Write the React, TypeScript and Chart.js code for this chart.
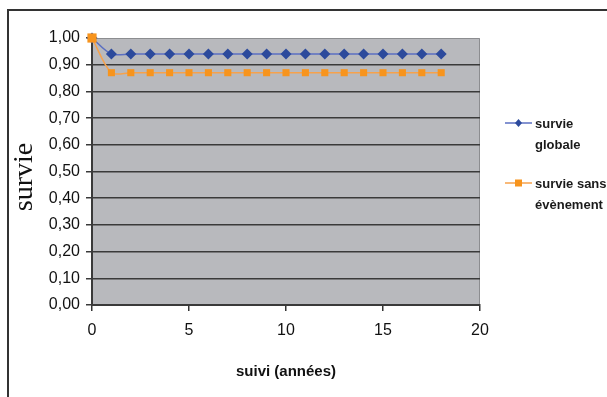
import React, { useEffect, useRef } from "react";
import { Chart, registerables } from "chart.js";

Chart.register(...registerables);

// Follow-up time in years
const years = [0, 1, 2, 3, 4, 5, 6, 7, 8, 9, 10, 11, 12, 13, 14, 15, 16, 17, 18];
// Overall survival
const survieGlobale = [1.0, 0.94, 0.94, 0.94, 0.94, 0.94, 0.94, 0.94, 0.94, 0.94, 0.94, 0.94, 0.94, 0.94, 0.94, 0.94, 0.94, 0.94, 0.94];
// Event-free survival
const survieSansEvenement = [1.0, 0.87, 0.87, 0.87, 0.87, 0.87, 0.87, 0.87, 0.87, 0.87, 0.87, 0.87, 0.87, 0.87, 0.87, 0.87, 0.87, 0.87, 0.87];

const legendLabels = [["survie", "globale"], ["survie sans", "évènement"]];
const yTitle = "survie";
const xTitle = "suivi (années)";

const BLUE_LINE = "#5b6fc2";
const BLUE_MARK = "#2c4a9c";
const ORANGE_LINE = "#f6a24c";
const ORANGE_MARK = "#f7941d";
const PLOT_BG = "#b8b9bd";

const decorations = {
  id: "decorations",
  beforeDraw(chart: any) {
    const { ctx, chartArea } = chart;
    ctx.save();
    ctx.fillStyle = "#ffffff";
    ctx.fillRect(0, 0, chart.width, chart.height);
    ctx.fillStyle = PLOT_BG;
    ctx.fillRect(chartArea.left, chartArea.top, chartArea.right - chartArea.left, chartArea.bottom - chartArea.top);
    // light plot border on top and right
    ctx.strokeStyle = "#8c8d90";
    ctx.lineWidth = 1;
    ctx.beginPath();
    ctx.moveTo(chartArea.left, chartArea.top + 0.5);
    ctx.lineTo(chartArea.right - 0.5, chartArea.top + 0.5);
    ctx.lineTo(chartArea.right - 0.5, chartArea.bottom);
    ctx.stroke();
    ctx.restore();
  },
  afterDraw(chart: any) {
    const { ctx, chartArea } = chart;
    ctx.save();
    // outer frame (top and left edges)
    ctx.strokeStyle = "#333333";
    ctx.lineWidth = 2;
    ctx.beginPath();
    ctx.moveTo(chart.width, 10);
    ctx.lineTo(8, 10);
    ctx.lineTo(8, chart.height);
    ctx.stroke();

    // y axis title
    ctx.fillStyle = "#111111";
    ctx.font = "28px 'Liberation Serif', 'Times New Roman', serif";
    ctx.textAlign = "center";
    ctx.textBaseline = "middle";
    ctx.save();
    ctx.translate(25, 177);
    ctx.rotate(-Math.PI / 2);
    ctx.fillText(yTitle, 0, 0);
    ctx.restore();

    // x axis title
    ctx.font = "bold 15px 'Liberation Sans', Arial, sans-serif";
    ctx.fillText(xTitle, (chartArea.left + chartArea.right) / 2, 372);

    // legend
    const items = [
      { y: 123, line: BLUE_LINE, mark: BLUE_MARK, style: "diamond" },
      { y: 183, line: ORANGE_LINE, mark: ORANGE_MARK, style: "square" },
    ];
    items.forEach((it, i) => {
      ctx.strokeStyle = it.line;
      ctx.lineWidth = 1.5;
      ctx.beginPath();
      ctx.moveTo(505, it.y);
      ctx.lineTo(532, it.y);
      ctx.stroke();
      ctx.fillStyle = it.mark;
      if (it.style === "diamond") {
        ctx.beginPath();
        ctx.moveTo(518.5, it.y - 4);
        ctx.lineTo(522, it.y);
        ctx.lineTo(518.5, it.y + 4);
        ctx.lineTo(515, it.y);
        ctx.closePath();
        ctx.fill();
      } else {
        ctx.fillRect(515, it.y - 3.5, 7, 7);
      }
      ctx.fillStyle = "#1a1a1a";
      ctx.font = "bold 13px 'Liberation Sans', Arial, sans-serif";
      ctx.textAlign = "left";
      ctx.textBaseline = "middle";
      legendLabels[i].forEach((t, k) => {
        ctx.fillText(t, 535, it.y + 1 + k * 21);
      });
    });
    ctx.restore();
  },
};

export default function App() {
  const ref = useRef<HTMLCanvasElement>(null);

  useEffect(() => {
    if (!ref.current) return;
    const tickFont = { family: "'Liberation Sans', Arial, sans-serif", size: 16 };
    const chart = new Chart(ref.current, {
      type: "line",
      data: {
        labels: years,
        datasets: [
          {
            label: "survie globale",
            data: years.map((x, i) => ({ x, y: survieGlobale[i] })),
            borderColor: BLUE_LINE,
            backgroundColor: BLUE_MARK,
            borderWidth: 1.5,
            pointStyle: "rectRot",
            pointRadius: 5.5,
            pointBorderWidth: 0,
            tension: 0.3,
            clip: false,
            order: 2,
          },
          {
            label: "survie sans évènement",
            data: years.map((x, i) => ({ x, y: survieSansEvenement[i] })),
            borderColor: ORANGE_LINE,
            backgroundColor: ORANGE_MARK,
            borderWidth: 1.5,
            pointStyle: "rect",
            pointRadius: (c: any) => (c.dataIndex === 0 ? 6.5 : 5),
            pointBorderWidth: 0,
            tension: 0.3,
            clip: false,
            order: 1,
          },
        ],
      },
      options: {
        responsive: false,
        animation: false,
        layout: { padding: { top: 38, right: 127, left: 0, bottom: 0 } },
        plugins: { legend: { display: false }, tooltip: { enabled: false } },
        scales: {
          x: {
            type: "linear",
            min: 0,
            max: 20,
            afterFit: (s: any) => { s.height = 92; },
            ticks: { stepSize: 5, font: tickFont, color: "#111", padding: 10, maxRotation: 0 },
            grid: { drawOnChartArea: false, drawTicks: true, tickLength: 6, color: "#333", lineWidth: 1.5 },
            border: { display: true, color: "#3a3a3a", width: 2 },
          },
          y: {
            min: 0,
            max: 1,
            afterFit: (s: any) => { s.width = 92; },
            ticks: {
              stepSize: 0.1,
              font: tickFont,
              color: "#111",
              padding: 6,
              callback: (v: any) => Number(v).toFixed(2).replace(".", ","),
            },
            grid: {
              color: (c: any) => (c.tick && Math.abs(c.tick.value - 1) < 1e-9 ? "rgba(0,0,0,0)" : "#3a3a3a"),
              tickColor: "#3a3a3a",
              lineWidth: 1.5,
              tickLength: 6,
            },
            border: { display: true, color: "#3a3a3a", width: 2 },
          },
        },
      },
      plugins: [decorations],
    });
    return () => chart.destroy();
  }, []);

  return (
    <canvas
      ref={ref}
      width={607}
      height={397}
      style={{ position: "fixed", left: 0, top: 0, width: 607, height: 397 }}
    />
  );
}
